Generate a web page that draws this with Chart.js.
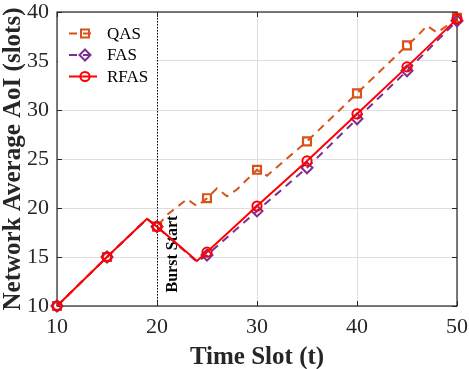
<!DOCTYPE html>
<html>
<head>
<meta charset="utf-8">
<script src="https://cdn.jsdelivr.net/npm/chart.js@4.4.1/dist/chart.umd.min.js"></script>
<style>
  html, body { margin: 0; padding: 0; background: #ffffff; }
  #wrap { width: 469px; height: 369px; }
</style>
</head>
<body>
<div id="wrap"><canvas id="c" width="469" height="369"></canvas></div>
<script>
// ---- data ----
const SERIES_NAMES = ['QAS', 'FAS', 'RFAS'];
const QAS_T  = [10, 15, 19, 20, 21, 22, 23, 24, 25, 26, 27, 28, 29, 30, 31, 35, 40, 45, 46, 47, 48, 49, 50];
const QAS_V  = [10, 15, 18.9, 18.1, 19.3, 20.1, 20.9, 20.2, 21.0, 22.0, 21.2, 21.9, 22.9, 23.9, 23.3, 26.8, 31.7, 36.6, 37.5, 38.6, 37.9, 38.6, 39.4];
const FAS_T  = [10, 15, 19, 20, 24, 25, 30, 35, 40, 45, 50];
const FAS_V  = [10, 15, 18.9, 18.1, 14.5, 15.2, 19.7, 24.1, 29.1, 34.0, 39.1];
const RFAS_T = [10, 15, 19, 20, 24, 25, 30, 35, 40, 45, 50];
const RFAS_V = [10, 15, 18.9, 18.1, 14.6, 15.5, 20.2, 24.8, 29.6, 34.4, 39.3];
const MARKER_T = [10, 15, 20, 25, 30, 35, 40, 45, 50];
const X_TICKS = [10, 20, 30, 40, 50];
const Y_TICKS = [10, 15, 20, 25, 30, 35, 40];
const BURST_T = 20;
const BURST_LABEL = 'Burst Start';
const X_TITLE = 'Time Slot (t)';
const Y_TITLE = 'Network Average AoI (slots)';

const SERIF = '"Liberation Serif", "Times New Roman", serif';
const AXIS_COLOR = '#262626';
const COLORS = { QAS: '#D95319', FAS: '#7E2F8E', RFAS: '#FF0000' };

const pts = (ts, vs) => ts.map((t, i) => ({ x: t, y: vs[i] }));
const markerRadius = r => c => (c.raw && MARKER_T.includes(c.raw.x) ? r : 0);

const datasets = [
  { label: 'QAS', data: pts(QAS_T, QAS_V), borderColor: COLORS.QAS, borderWidth: 2,
    borderDash: [8, 6], pointStyle: 'rect', pointRadius: markerRadius(5.6), pointBorderWidth: 2.2,
    pointBorderColor: COLORS.QAS, pointBackgroundColor: 'rgba(0,0,0,0)', order: 2 },
  { label: 'FAS', data: pts(FAS_T, FAS_V), borderColor: COLORS.FAS, borderWidth: 2,
    borderDash: [8, 6], pointStyle: 'rectRot', pointRadius: markerRadius(5.5), pointBorderWidth: 2,
    pointBorderColor: COLORS.FAS, pointBackgroundColor: 'rgba(0,0,0,0)', order: 1 },
  { label: 'RFAS', data: pts(RFAS_T, RFAS_V), borderColor: COLORS.RFAS, borderWidth: 2,
    pointStyle: 'circle', pointRadius: markerRadius(4.6), pointBorderWidth: 2,
    pointBorderColor: COLORS.RFAS, pointBackgroundColor: 'rgba(0,0,0,0)', order: 0 }
];

function drawMarker(ctx, style, x, y) {
  ctx.beginPath();
  if (style === 'rect') {
    ctx.rect(x - 4, y - 4, 8, 8);
  } else if (style === 'rectRot') {
    ctx.moveTo(x, y - 5.5); ctx.lineTo(x + 5.5, y); ctx.lineTo(x, y + 5.5); ctx.lineTo(x - 5.5, y); ctx.closePath();
  } else {
    ctx.arc(x, y, 4.6, 0, Math.PI * 2);
  }
  ctx.stroke();
}

const framePlugin = {
  id: 'frame',
  beforeDatasetsDraw(chart) {
    const { ctx, chartArea: { left, right, top, bottom }, scales: { x, y } } = chart;
    ctx.save();
    // burst marker line
    const bx = Math.round(x.getPixelForValue(BURST_T)) + 0.5;
    ctx.strokeStyle = '#000000';
    ctx.lineWidth = 1;
    ctx.setLineDash([1.5, 1.5]);
    ctx.beginPath(); ctx.moveTo(bx, top); ctx.lineTo(bx, bottom); ctx.stroke();
    ctx.setLineDash([]);
    // burst label
    ctx.save();
    ctx.translate(bx + 19, y.getPixelForValue(15.3));
    ctx.rotate(-Math.PI / 2);
    ctx.font = 'bold 16px ' + SERIF;
    ctx.fillStyle = '#000000';
    ctx.textAlign = 'center';
    ctx.textBaseline = 'alphabetic';
    ctx.fillText(BURST_LABEL, 0, 0);
    ctx.restore();
    // inward ticks
    ctx.strokeStyle = AXIS_COLOR;
    ctx.lineWidth = 1;
    ctx.beginPath();
    X_TICKS.forEach(v => {
      const px = Math.round(x.getPixelForValue(v)) + 0.5;
      ctx.moveTo(px, bottom); ctx.lineTo(px, bottom - 5);
      ctx.moveTo(px, top); ctx.lineTo(px, top + 5);
    });
    Y_TICKS.forEach(v => {
      const py = Math.round(y.getPixelForValue(v)) + 0.5;
      ctx.moveTo(left, py); ctx.lineTo(left + 5, py);
      ctx.moveTo(right, py); ctx.lineTo(right - 5, py);
    });
    ctx.stroke();
    // box
    ctx.lineWidth = 1.2;
    ctx.strokeRect(left, top, right - left, bottom - top);
    ctx.restore();
  },
  afterDatasetsDraw(chart) {
    const { ctx, chartArea: { left, top } } = chart;
    ctx.save();
    ctx.fillStyle = '#ffffff';
    ctx.fillRect(left + 1, top + 1, 97, 80);
    const rowsY = [top + 21.5, top + 43, top + 64.5];
    chart.data.datasets.forEach((ds, i) => {
      const cy = rowsY[i];
      ctx.strokeStyle = ds.borderColor;
      ctx.lineWidth = 2;
      ctx.setLineDash(ds.borderDash || []);
      ctx.beginPath(); ctx.moveTo(left + 12, cy); ctx.lineTo(left + 40, cy); ctx.stroke();
      ctx.setLineDash([]);
      drawMarker(ctx, ds.pointStyle, left + 28, cy);
      ctx.fillStyle = '#000000';
      ctx.font = '17px ' + SERIF;
      ctx.textAlign = 'left';
      ctx.textBaseline = 'middle';
      ctx.fillText(ds.label, left + 50, cy + 1);
    });
    ctx.restore();
  }
};

new Chart(document.getElementById('c'), {
  type: 'line',
  data: { datasets },
  options: {
    responsive: false,
    animation: false,
    devicePixelRatio: 1,
    clip: false,
    layout: { padding: { top: 12, right: 12, left: 0, bottom: 0 } },
    plugins: { legend: { display: false }, tooltip: { enabled: false } },
    elements: { line: { tension: 0 } },
    scales: {
      x: {
        type: 'linear', min: 10, max: 50,
        afterBuildTicks: s => { s.ticks = X_TICKS.map(v => ({ value: v })); },
        afterFit: s => { s.height = 63; s.paddingLeft = 0; s.paddingRight = 0; },
        ticks: { font: { family: SERIF, size: 22 }, color: AXIS_COLOR, padding: 8, maxRotation: 0 },
        grid: { color: '#dedede', lineWidth: 1, drawTicks: false },
        border: { display: false },
        title: { display: true, text: X_TITLE, color: AXIS_COLOR,
                 font: { family: SERIF, size: 25, weight: 'bold', lineHeight: 1.1 }, padding: { top: 0, bottom: -2 } }
      },
      y: {
        type: 'linear', min: 10, max: 40,
        afterBuildTicks: s => { s.ticks = Y_TICKS.map(v => ({ value: v })); },
        afterFit: s => { s.width = 57; s.paddingTop = 0; s.paddingBottom = 0; },
        ticks: { font: { family: SERIF, size: 22 }, color: AXIS_COLOR, padding: 8 },
        grid: { color: '#dedede', lineWidth: 1, drawTicks: false },
        border: { display: false },
        title: { display: true, text: Y_TITLE, color: AXIS_COLOR,
                 font: { family: SERIF, size: 25, weight: 'bold', lineHeight: 1.1 }, padding: { top: 0, bottom: 0 } }
      }
    }
  },
  plugins: [framePlugin]
});
</script>
</body>
</html>
